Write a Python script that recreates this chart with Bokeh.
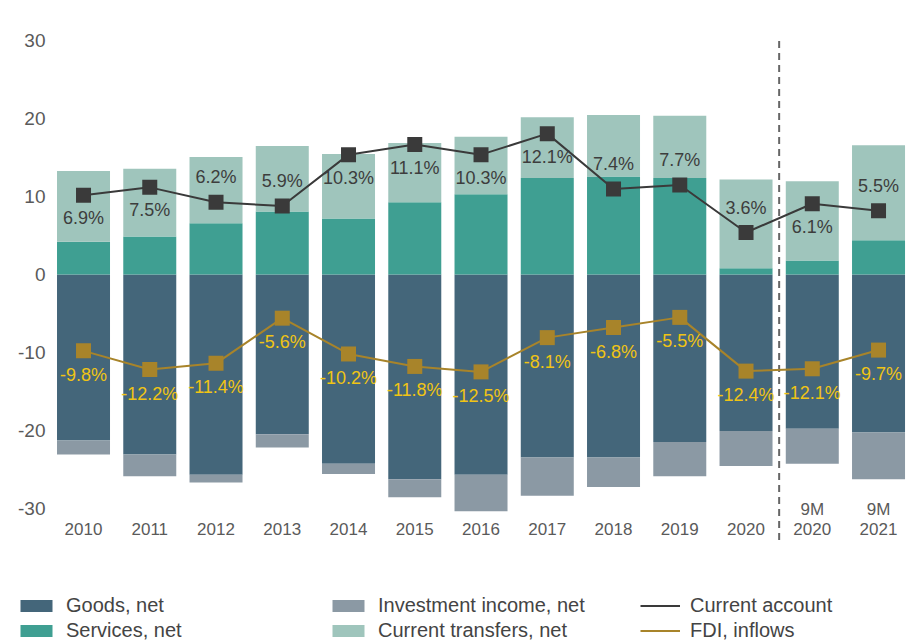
from bokeh.plotting import figure
from bokeh.models import ColumnDataSource, Legend, LegendItem, Range1d
from bokeh.core.properties import value
from bokeh.embed import file_html
from bokeh.resources import INLINE

# ---- data (USD bn) ----
period_top = ["", "", "", "", "", "", "", "", "", "", "", "9M", "9M"]
period_bottom = ["2010", "2011", "2012", "2013", "2014", "2015", "2016",
                 "2017", "2018", "2019", "2020", "2020", "2021"]
goods = [-21.3, -23.1, -25.7, -20.5, -24.3, -26.3, -25.7, -23.5, -23.5, -21.5, -20.1, -19.8, -20.3]
invest = [-1.8, -2.8, -1.0, -1.7, -1.3, -2.3, -4.7, -4.9, -3.8, -4.4, -4.5, -4.5, -6.0]
services = [4.2, 4.9, 6.6, 8.1, 7.2, 9.3, 10.3, 12.4, 12.6, 12.4, 0.8, 1.8, 4.4]
transfers = [9.1, 8.7, 8.5, 8.4, 8.3, 7.6, 7.4, 7.8, 7.9, 8.0, 11.4, 10.2, 12.2]
current_account = [10.2, 11.2, 9.3, 8.8, 15.4, 16.7, 15.4, 18.1, 11.0, 11.5, 5.4, 9.1, 8.2]
ca_pct = ["6.9%", "7.5%", "6.2%", "5.9%", "10.3%", "11.1%", "10.3%",
          "12.1%", "7.4%", "7.7%", "3.6%", "6.1%", "5.5%"]
fdi = [-9.8, -12.2, -11.4, -5.6, -10.2, -11.8, -12.5, -8.1, -6.8, -5.5, -12.4, -12.1, -9.7]
fdi_pct = ["-9.8%", "-12.2%", "-11.4%", "-5.6%", "-10.2%", "-11.8%", "-12.5%",
           "-8.1%", "-6.8%", "-5.5%", "-12.4%", "-12.1%", "-9.7%"]
y_ticks = [-30, -20, -10, 0, 10, 20, 30]

# label side for current-account labels (style)
ca_side = ["below", "below", "above", "above", "below", "below", "below",
           "below", "above", "above", "above", "below", "above"]

# ---- colours / style ----
C_GOODS = "#44667A"
C_SERV = "#3F9F92"
C_TRANS = "#9FC5BC"
C_INV = "#8B99A4"
C_CA = "#3A3A3A"
C_FDI = "#A8842A"
C_FDI_TXT = "#F0C414"
C_TICK = "#5A5A5A"
FONT = "Liberation Sans"

n = len(period_bottom)
xs = list(range(n))

X0, X1 = -1.253, 12.558
Y0, Y1 = -47.0, 35.2

src = ColumnDataSource(dict(
    x=xs, goods=goods, invest=invest, services=services, transfers=transfers,
    ca=current_account, ca_pct=ca_pct, fdi=fdi, fdi_pct=fdi_pct,
    top=period_top, bottom=period_bottom,
    ca_off=[-25 if s == "above" else 23 for s in ca_side],
    ybase=[y_ticks[0]] * n,
))
tick_src = ColumnDataSource(dict(
    y=y_ticks, x=[X0] * len(y_ticks), label=[str(t) for t in y_ticks]))

p = figure(width=915, height=640, output_backend="svg", toolbar_location=None,
           x_range=Range1d(X0, X1), y_range=Range1d(Y0, Y1),
           x_axis_location=None, y_axis_location=None,
           min_border=0, min_border_left=0, min_border_right=0,
           min_border_top=0, min_border_bottom=0)
p.outline_line_color = None
p.xgrid.visible = False
p.ygrid.visible = False
p.background_fill_color = "white"
p.border_fill_color = "white"

# y tick labels
p.text("x", "y", text="label", source=tick_src, x_offset=45,
       text_align="right", text_baseline="middle", text_font=value(FONT),
       text_font_size="19px", text_color=C_TICK)

W = 0.8
neg = p.vbar_stack(["goods", "invest"], x="x", width=W, source=src,
                   color=[C_GOODS, C_INV], line_color=None)
pos = p.vbar_stack(["services", "transfers"], x="x", width=W, source=src,
                   color=[C_SERV, C_TRANS], line_color=None)

# dashed separator between full years and 9M figures
p.segment(x0=[n - 2.5], y0=[y_ticks[-1]], x1=[n - 2.5], y1=[-34.6],
          line_color="#666666", line_width=2, line_dash="7 5")

ca_line = p.line("x", "ca", source=src, line_color=C_CA, line_width=2)
p.scatter("x", "ca", source=src, marker="square", size=15, fill_color=C_CA, line_color=None)
fdi_line = p.line("x", "fdi", source=src, line_color=C_FDI, line_width=2)
p.scatter("x", "fdi", source=src, marker="square", size=15, fill_color=C_FDI, line_color=None)

p.text("x", "ca", text="ca_pct", source=src, y_offset="ca_off",
       text_align="center", text_baseline="middle", text_font=value(FONT),
       text_font_size="18px", text_color="#3D3D3D")
p.text("x", "fdi", text="fdi_pct", source=src, y_offset=24,
       text_align="center", text_baseline="middle", text_font=value(FONT),
       text_font_size="18px", text_color=C_FDI_TXT)

# category labels
p.text("x", "ybase", text="top", source=src, y_offset=1,
       text_align="center", text_baseline="middle", text_font=value(FONT),
       text_font_size="17px", text_color=C_TICK)
p.text("x", "ybase", text="bottom", source=src, y_offset=21,
       text_align="center", text_baseline="middle", text_font=value(FONT),
       text_font_size="17px", text_color=C_TICK)

legend = Legend(items=[
    LegendItem(label="Goods, net", renderers=[neg[0]]),
    LegendItem(label="Services, net", renderers=[pos[0]]),
    LegendItem(label="Investment income, net", renderers=[neg[1]]),
    LegendItem(label="Current transfers, net", renderers=[pos[1]]),
    LegendItem(label="Current account", renderers=[ca_line]),
    LegendItem(label="FDI, inflows", renderers=[fdi_line]),
], location=(16, -2), orientation="vertical", ncols=3)
legend.border_line_color = None
legend.background_fill_alpha = 0
legend.padding = 0
legend.margin = 0
legend.spacing = 2
legend.glyph_width = 40
legend.glyph_height = 15
legend.label_height = 15
legend.label_width = 260
legend.label_standoff = 10
legend.label_text_font = FONT
legend.label_text_font_size = "20px"
legend.label_text_color = "#444444"
legend.label_text_baseline = "middle"
p.add_layout(legend, "center")

open("out.html", "w").write(file_html(p, INLINE))
